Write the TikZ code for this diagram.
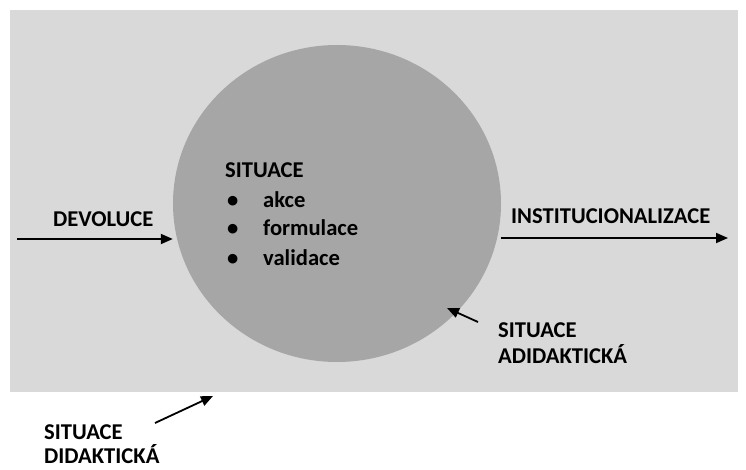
\documentclass[tikz,border=0pt]{standalone}
\usepackage{fontspec}
\setmainfont{Carlito}
\usetikzlibrary{shapes.geometric,arrows.meta}
\definecolor{bggray}{HTML}{D9D9D9}
\definecolor{circgray}{HTML}{A6A6A6}
\tikzset{
  lbl/.style={font=\bfseries\fontsize{22.6}{26}\selectfont, align=left, inner sep=0pt, anchor=base west},
  arr/.style={-{Triangle[length=12pt,width=10pt]}, line width=1.8pt},
}
\begin{document}
\begin{tikzpicture}[x=1pt,y=-1pt]
  \useasboundingbox (0,0) rectangle (746,470);
  % pozadi a kruh
  \fill[white] (0,0) rectangle (746,470);
  \fill[bggray] (10,10) rectangle (738,392);
  \node[ellipse, fill=circgray, minimum width=328pt, minimum height=317pt, inner sep=0pt] (sit) at (337,203.5) {};

  % texty (u viceradkovych je base posledni radek)
  \node[lbl, font=\bfseries\fontsize{22.6}{29}\selectfont] (faze) at (225,265)
    {SITUACE\\
     \makebox[38pt][l]{\hspace{2pt}•}akce\\
     \makebox[38pt][l]{\hspace{2pt}•}formulace\\
     \makebox[38pt][l]{\hspace{2pt}•}validace};
  \node[lbl] (devo) at (53,226) {DEVOLUCE};
  \node[lbl] (inst) at (511,223) {INSTITUCIONALIZACE};
  \node[lbl] (adi) at (498,363) {SITUACE\\ADIDAKTICKÁ};
  \node[lbl, font=\bfseries\fontsize{22.6}{24}\selectfont] (dida) at (44,463) {SITUACE\\DIDAKTICKÁ};

  % sipky
  \coordinate (devstart) at (17,239);
  \draw[arr] (devstart) -- (devstart -| sit.west);
  \coordinate (instend) at (728,238);
  \draw[arr] (sit.east |- instend) -- (instend);
  \coordinate (adistart) at (478,322);
  \coordinate (aditip) at (447,308);
  \draw[arr] (adistart) -- (aditip);
  \coordinate (didastart) at (155,423);
  \coordinate (didatip) at (213,396);
  \draw[arr] (didastart) -- (didatip);
\end{tikzpicture}
\end{document}
